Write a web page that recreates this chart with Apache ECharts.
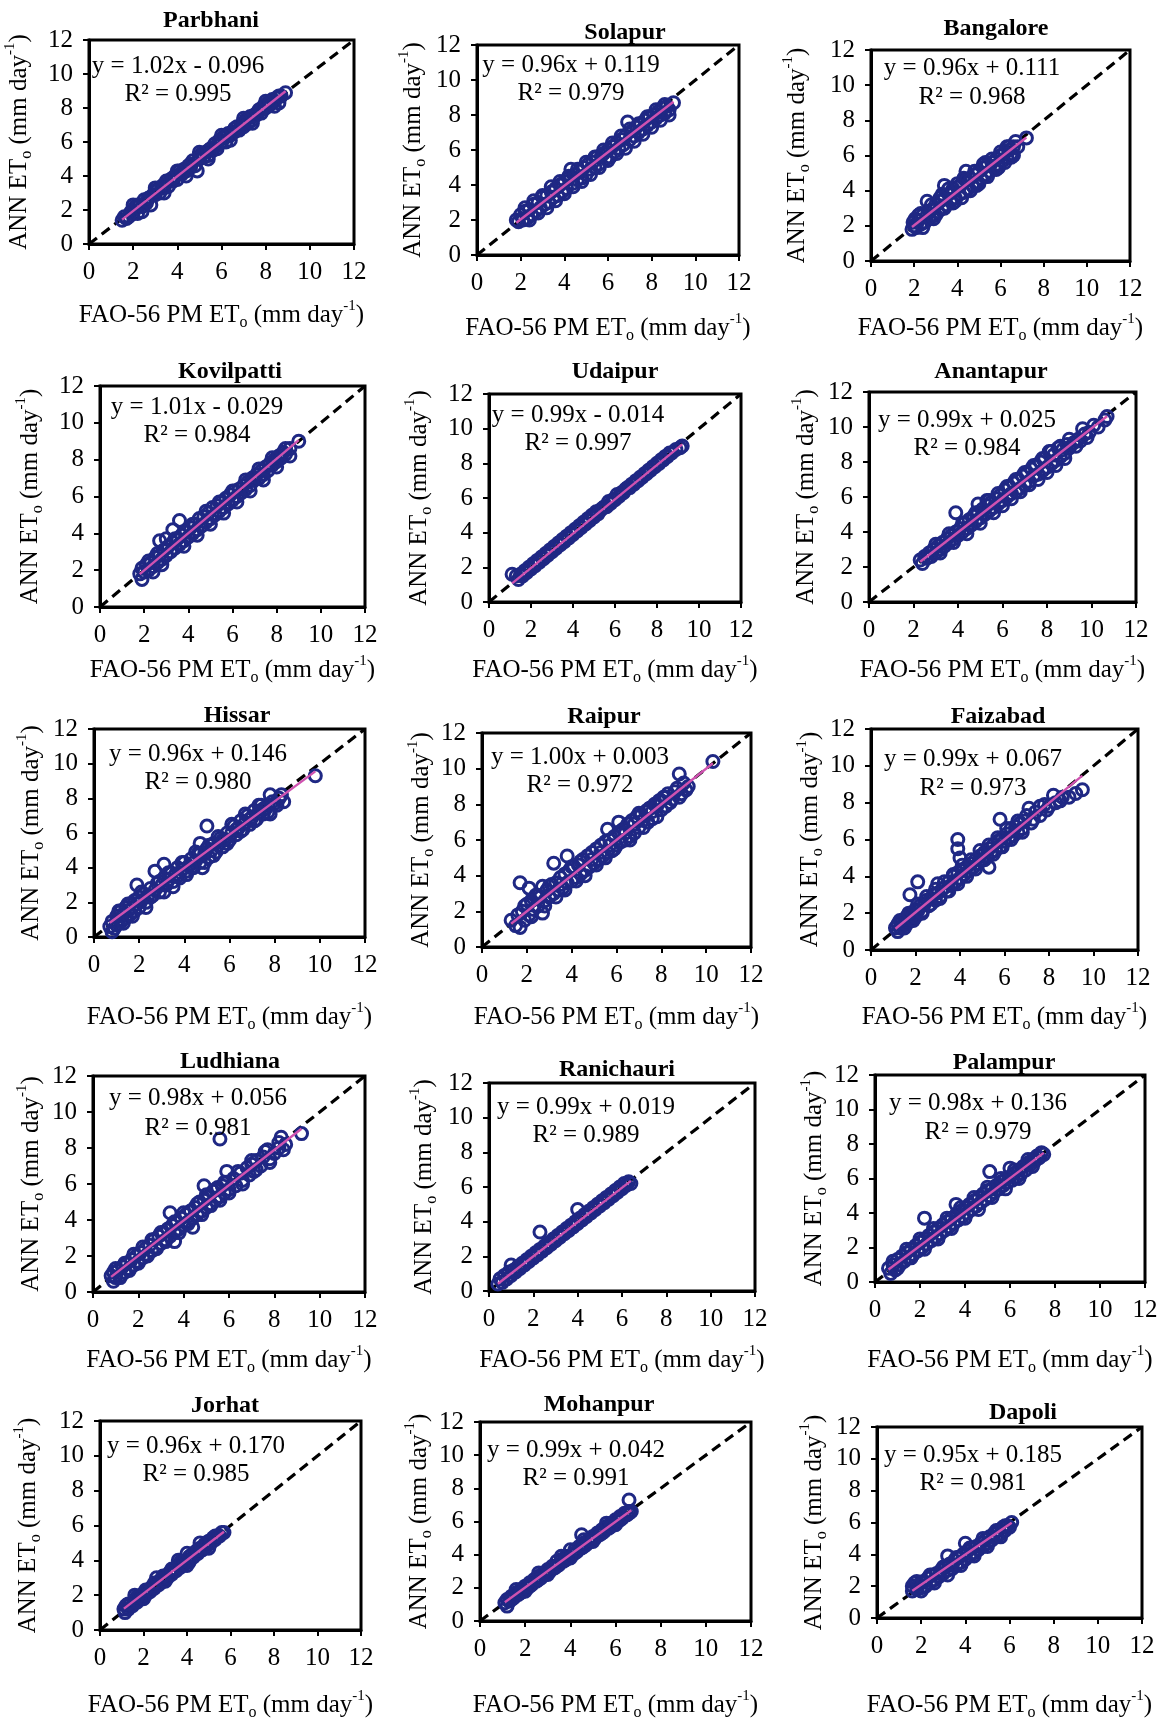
<!DOCTYPE html>
<html><head><meta charset="utf-8">
<script src="https://cdn.jsdelivr.net/npm/echarts@6/dist/echarts.min.js"></script>
<style>html,body{margin:0;padding:0;background:#fff}#c{width:1162px;height:1718px}</style>
</head><body><div id="c"></div>
<script>
// ---------------- DATA ----------------
const stations = ['Parbhani','Solapur','Bangalore','Kovilpatti','Udaipur','Anantapur','Hissar','Raipur','Faizabad','Ludhiana','Ranichauri','Palampur','Jorhat','Mohanpur','Dapoli'];
const equations = ['y = 1.02x - 0.096','y = 0.96x + 0.119','y = 0.96x + 0.111','y = 1.01x - 0.029','y = 0.99x - 0.014','y = 0.99x + 0.025','y = 0.96x + 0.146','y = 1.00x + 0.003','y = 0.99x + 0.067','y = 0.98x + 0.056','y = 0.99x + 0.019','y = 0.98x + 0.136','y = 0.96x + 0.170','y = 0.99x + 0.042','y = 0.95x + 0.185'];
const r2Labels = ['R² = 0.995','R² = 0.979','R² = 0.968','R² = 0.984','R² = 0.997','R² = 0.984','R² = 0.980','R² = 0.972','R² = 0.973','R² = 0.981','R² = 0.989','R² = 0.979','R² = 0.985','R² = 0.991','R² = 0.981'];
const slopes = [1.02,0.96,0.96,1.01,0.99,0.99,0.96,1.00,0.99,0.98,0.99,0.98,0.96,0.99,0.95];
const intercepts = [-0.096,0.119,0.111,-0.029,-0.014,0.025,0.146,0.003,0.067,0.056,0.019,0.136,0.170,0.042,0.185];
const axisMin = 0, axisMax = 12, axisStep = 2;
const oneToOne = [[0,0],[12,12]];
const xAxisTitle = '{t|FAO-56 PM ET}{sub|o}{t| (mm day}{sup|-1}{t|)}';
const yAxisTitle = '{t|ANN ET}{sub|o}{t| (mm day}{sup|-1}{t|)}';

const parbhani = [[1.5,1.4],[1.6,1.6],[1.7,1.5],[1.9,1.9],[2.0,1.8],[2.1,2.2],[2.2,1.8],[2.3,2.3],[2.4,2.2],[2.5,2.6],[2.6,2.4],[2.7,2.7],[2.8,2.3],[2.9,2.9],[3.0,2.9],[3.1,3.2],[3.2,3.0],[3.3,3.4],[3.4,3.3],[3.5,3.7],[3.6,3.4],[3.7,3.8],[3.8,3.7],[3.9,4.0],[4.0,3.8],[4.1,4.3],[4.2,4.1],[4.3,4.4],[4.4,4.3],[4.5,4.6],[4.6,4.5],[4.7,4.9],[4.8,4.6],[4.9,4.3],[5.0,5.0],[5.1,5.3],[5.2,5.1],[5.3,5.4],[5.4,5.2],[5.5,5.6],[5.6,5.5],[5.7,5.9],[5.8,5.6],[5.9,6.1],[6.0,6.0],[6.1,6.3],[6.2,6.0],[6.3,6.5],[6.4,6.4],[6.5,6.6],[6.6,6.6],[6.7,6.9],[6.8,6.7],[6.9,7.0],[7.0,6.9],[7.1,7.3],[7.2,7.1],[7.3,7.5],[7.4,7.3],[7.5,7.6],[7.6,7.6],[7.7,7.9],[7.8,7.7],[7.9,8.1],[8.0,8.0],[8.1,8.3],[8.2,8.2],[8.3,8.5],[8.4,8.4],[8.5,8.6],[8.6,8.3],[8.7,8.7],[8.9,8.9],
  [1.8,1.6],[2.2,2.3],[2.6,2.5],[3.0,3.1],[3.4,3.5],[3.8,3.9],[4.2,4.2],[4.6,4.7],[5.0,5.1],[5.4,5.5],[5.8,5.8],[6.2,6.3],[6.6,6.8],[7.0,7.1],[7.4,7.5],[7.8,7.9],[8.2,8.3],[8.6,8.7],
  [2.0,2.3],[2.4,1.9],[3.0,3.3],[3.4,3.0],[4.0,4.3],[4.4,4.0],[5.0,5.4],[5.4,5.0],[6.0,6.4],[6.4,6.1],[7.0,7.4],[7.4,7.1],[8.0,8.4],[8.4,8.1]];
const solapur = [[1.8,2.0],[1.9,1.9],[2.0,2.3],[2.1,2.0],[2.2,2.5],[2.3,2.1],[2.4,2.6],[2.5,2.3],[2.6,2.9],[2.7,2.5],[2.8,3.0],[2.9,2.7],[3.0,3.3],[3.1,2.9],[3.2,3.4],[3.3,3.0],[3.4,3.9],[3.5,3.3],[3.6,3.8],[3.7,3.4],[3.8,4.0],[3.9,3.6],[4.0,4.2],[4.1,3.8],[4.2,4.4],[4.3,4.9],[4.4,4.1],[4.5,4.6],[4.6,4.3],[4.7,4.8],[4.8,4.4],[4.9,5.0],[5.0,4.6],[5.1,5.2],[5.2,4.9],[5.3,5.3],[5.4,5.0],[5.5,5.6],[5.6,5.2],[5.7,5.7],[5.8,6.0],[5.9,5.5],[6.0,6.0],[6.1,5.6],[6.2,6.2],[6.3,5.9],[6.4,6.4],[6.5,6.1],[6.6,6.6],[6.7,6.3],[6.8,6.8],[6.9,7.6],[7.0,6.6],[7.1,7.1],[7.2,6.8],[7.3,7.3],[7.4,7.0],[7.5,7.5],[7.6,7.2],[7.7,7.7],[7.8,7.4],[7.9,7.9],[8.0,7.6],[8.1,8.0],[8.2,7.8],[8.3,8.2],[8.4,8.0],[8.5,8.4],[8.6,8.1],[8.7,8.5],[8.8,8.3],[9.0,8.7],
  [2.2,2.7],[2.4,2.0],[2.6,3.1],[2.8,2.4],[3.0,3.4],[3.2,2.7],[3.4,3.6],[3.6,3.1],[3.8,4.2],[4.0,3.5],[4.2,4.5],[4.4,3.9],[4.6,4.9],[4.8,4.2],[5.0,5.3],[5.2,4.6],[5.4,5.6],[5.6,5.0],[5.8,5.8],[6.0,5.4],[6.2,6.4],[6.4,5.8],[6.6,6.8],[6.8,6.1],[7.0,7.2],[7.2,6.5],[7.4,7.5],[7.6,6.9],[7.8,7.9],[8.0,7.3],[8.2,8.3],[8.4,7.7],[8.6,8.6],[8.8,8.0]];
const bangalore = [[1.9,1.8],[1.95,2.2],[2.0,2.0],[2.05,2.4],[2.1,1.9],[2.2,2.3],[2.3,2.1],[2.4,2.6],[2.5,2.2],[2.6,3.4],[2.6,2.6],[2.7,2.4],[2.8,2.9],[2.9,2.6],[3.0,3.2],[3.1,2.8],[3.2,3.4],[3.3,3.0],[3.4,4.3],[3.4,3.6],[3.5,3.2],[3.6,3.8],[3.7,3.4],[3.8,4.1],[3.9,3.6],[4.0,4.2],[4.1,3.8],[4.2,4.4],[4.3,3.9],[4.4,5.1],[4.4,4.6],[4.5,4.1],[4.6,4.7],[4.7,4.3],[4.8,4.9],[4.9,4.5],[5.0,5.1],[5.1,4.7],[5.2,5.3],[5.3,4.9],[5.4,5.5],[5.5,5.1],[5.6,5.6],[5.7,5.3],[5.8,5.8],[5.9,5.5],[6.0,6.0],[6.1,5.7],[6.2,6.2],[6.3,5.9],[6.4,6.3],[6.5,6.1],[6.6,6.5],[6.7,6.8],[6.8,6.5],[7.2,7.0],
  [2.2,2.6],[2.4,1.9],[2.8,3.2],[3.0,2.6],[3.2,3.6],[3.4,3.0],[3.6,4.1],[3.8,3.3],[4.0,4.4],[4.2,3.6],[4.4,4.6],[4.6,4.0],[4.8,5.1],[5.0,4.4],[5.2,5.5],[5.4,4.8],[5.6,5.8],[5.8,5.2],[6.0,6.2],[6.2,5.6],[6.4,6.5],[6.6,6.0],
  [2.3,2.7],[2.9,2.4],[3.3,3.8],[3.9,3.4],[4.3,4.7],[4.9,4.3],[5.3,5.6],[5.9,5.3],[6.3,6.5],[6.5,5.9]];
const kovilpatti = [[1.8,1.8],[1.9,1.5],[1.9,2.1],[2.0,1.9],[2.1,2.3],[2.2,2.0],[2.3,2.4],[2.4,2.2],[2.5,2.7],[2.6,2.4],[2.7,3.6],[2.7,2.8],[2.8,2.6],[2.9,3.1],[3.0,3.7],[3.0,2.8],[3.1,3.3],[3.2,3.0],[3.3,4.2],[3.3,3.5],[3.4,3.2],[3.5,3.7],[3.6,4.7],[3.6,3.4],[3.7,3.9],[3.8,3.6],[3.9,4.1],[4.0,3.8],[4.1,4.3],[4.2,4.0],[4.3,4.5],[4.4,4.2],[4.5,4.8],[4.6,4.4],[4.7,4.9],[4.8,4.6],[4.9,5.1],[5.0,4.8],[5.1,5.4],[5.2,5.0],[5.3,5.5],[5.4,5.2],[5.5,5.7],[5.6,5.4],[5.7,5.9],[5.8,5.6],[5.9,6.1],[6.0,5.8],[6.1,6.3],[6.2,6.0],[6.3,6.4],[6.4,6.2],[6.5,6.6],[6.6,6.4],[6.7,6.8],[6.8,6.6],[6.9,7.0],[7.0,6.9],[7.1,7.2],[7.2,7.0],[7.3,7.4],[7.4,7.2],[7.5,7.6],[7.6,7.4],[7.7,7.8],[7.8,7.7],[7.9,8.0],[8.0,7.9],[8.1,8.2],[8.2,8.1],[8.3,8.4],[8.4,8.3],[8.6,8.6],[9.0,9.0],
  [2.2,2.5],[2.4,1.9],[2.6,2.9],[2.8,2.3],[3.4,3.7],[3.8,3.3],[4.2,4.5],[4.4,3.9],[4.8,5.2],[5.0,4.5],[5.4,5.7],[5.6,5.1],[6.0,6.3],[6.2,5.7],[6.6,6.9],[6.8,6.3],[7.2,7.5],[7.4,6.9],[7.8,8.1],[8.0,7.6],[8.4,8.6],[8.6,8.2]];
const udaipur = [[1.1,1.6],[1.3,1.5],[1.4,1.3],[1.5,1.6],[1.6,1.5],[1.7,1.8],[1.8,1.7],[1.9,2.0],[2.0,1.9],[2.1,2.2],[2.2,2.1],[2.3,2.4],[2.4,2.3],[2.5,2.6],[2.6,2.5],[2.7,2.8],[2.8,2.7],[2.9,3.0],[3.0,2.9],[3.1,3.2],[3.2,3.1],[3.3,3.4],[3.4,3.3],[3.5,3.6],[3.6,3.5],[3.7,3.8],[3.8,3.7],[3.9,4.0],[4.0,3.9],[4.1,4.2],[4.2,4.1],[4.3,4.4],[4.4,4.3],[4.5,4.6],[4.6,4.5],[4.7,4.8],[4.8,4.7],[4.9,5.0],[5.0,4.9],[5.1,5.2],[5.2,5.1],[5.3,5.3],[5.4,5.4],[5.5,5.5],[5.6,5.5],[5.7,5.8],[5.8,5.7],[5.9,5.9],[6.0,5.9],[6.1,6.2],[6.2,6.1],[6.3,6.3],[6.4,6.3],[6.5,6.5],[6.6,6.6],[6.7,6.6],[6.8,6.8],[6.9,6.8],[7.0,7.0],[7.1,7.0],[7.2,7.2],[7.3,7.2],[7.4,7.4],[7.5,7.4],[7.6,7.6],[7.7,7.6],[7.8,7.8],[7.9,7.8],[8.0,8.0],[8.1,8.0],[8.2,8.2],[8.3,8.2],[8.4,8.4],[8.5,8.4],[8.6,8.6],[8.7,8.6],[8.9,8.8],[9.1,8.9],[9.2,9.0]];
const anantapur = [[2.3,2.4],[2.4,2.2],[2.5,2.6],[2.6,2.5],[2.7,2.8],[2.8,2.6],[2.9,3.0],[3.0,2.8],[3.1,3.2],[3.2,3.0],[3.3,3.4],[3.4,3.2],[3.5,3.6],[3.6,3.4],[3.7,3.8],[3.8,3.6],[3.9,5.1],[3.9,4.0],[4.0,3.8],[4.1,4.2],[4.2,4.0],[4.3,4.5],[4.4,4.2],[4.5,4.7],[4.6,4.4],[4.7,4.9],[4.8,4.6],[4.9,5.6],[4.9,5.1],[5.0,4.8],[5.1,5.3],[5.2,5.0],[5.3,5.8],[5.3,5.5],[5.4,5.2],[5.5,5.7],[5.6,5.4],[5.7,5.9],[5.8,5.6],[5.9,6.1],[6.0,5.8],[6.1,6.4],[6.2,6.0],[6.3,6.6],[6.4,6.2],[6.5,6.8],[6.6,6.3],[6.7,7.0],[6.8,6.5],[6.9,7.2],[7.0,6.7],[7.1,7.4],[7.2,6.9],[7.3,7.6],[7.4,7.2],[7.5,7.8],[7.6,7.3],[7.7,8.0],[7.8,7.5],[7.9,8.2],[8.0,7.7],[8.1,8.6],[8.2,7.9],[8.3,8.4],[8.4,8.1],[8.5,8.8],[8.6,8.3],[8.7,8.7],[8.8,8.5],[8.9,9.0],[9.0,8.8],[9.2,9.1],[9.4,9.3],[9.5,9.2],[9.7,9.6],[9.9,9.7],[10.6,10.4],[10.7,10.6],
  [3.0,3.3],[3.2,2.8],[3.6,3.9],[3.8,3.4],[4.2,4.5],[4.4,3.9],[4.8,5.1],[5.0,4.5],[5.4,5.8],[5.6,5.1],[5.8,6.2],[6.0,5.5],[6.2,6.6],[6.4,5.9],[6.6,7.0],[6.8,6.3],[7.0,7.4],[7.2,6.7],[7.4,7.8],[7.6,7.0],[7.8,8.2],[8.0,7.4],[8.2,8.6],[8.4,7.8],[8.6,8.9],[8.8,8.2],[9.0,9.3],[9.3,8.9],[9.6,9.9],[9.8,9.4],[10.1,10.1],[10.3,10.0]];
const hissar = [[0.7,0.6],[0.8,0.3],[0.8,0.9],[0.9,0.5],[1.0,1.2],[1.0,0.7],[1.1,1.0],[1.2,1.5],[1.2,0.9],[1.3,1.3],[1.4,1.7],[1.4,1.1],[1.5,1.5],[1.6,1.9],[1.6,1.3],[1.7,1.7],[1.8,2.1],[1.8,1.5],[1.9,3.0],[1.9,1.9],[2.0,2.3],[2.0,1.7],[2.1,2.1],[2.2,2.5],[2.3,2.0],[2.4,2.4],[2.5,2.8],[2.6,2.4],[2.7,3.8],[2.7,2.7],[2.8,3.1],[2.9,2.6],[3.0,3.0],[3.1,4.2],[3.1,3.4],[3.2,3.0],[3.3,3.3],[3.4,3.7],[3.5,3.2],[3.6,3.6],[3.7,4.0],[3.8,3.4],[3.9,3.9],[4.0,4.3],[4.1,3.8],[4.2,4.1],[4.3,4.5],[4.4,4.0],[4.5,4.4],[4.6,4.8],[4.7,5.4],[4.7,4.3],[4.8,4.0],[4.9,4.8],[5.0,6.4],[5.0,5.1],[5.1,4.6],[5.2,5.0],[5.3,5.4],[5.4,4.9],[5.5,5.3],[5.6,5.7],[5.7,5.2],[5.8,5.6],[5.9,6.0],[6.0,5.6],[6.1,6.0],[6.2,6.4],[6.3,5.9],[6.4,6.3],[6.5,6.7],[6.6,6.2],[6.7,6.6],[6.8,7.0],[6.9,6.5],[7.0,6.9],[7.1,7.3],[7.2,6.8],[7.3,7.2],[7.4,7.6],[7.5,7.1],[7.6,7.4],[7.7,7.6],[7.8,8.2],[7.8,7.1],[8.0,7.7],[8.2,8.0],[8.3,8.2],[8.4,7.8],[9.8,9.3],
  [1.1,1.5],[1.3,0.8],[1.5,1.9],[1.7,1.2],[2.1,2.6],[2.3,1.7],[2.5,2.3],[2.9,3.2],[3.1,2.6],[3.3,3.7],[3.5,2.9],[3.7,3.5],[3.9,4.3],[4.1,3.6],[4.3,4.0],[4.5,4.9],[4.7,4.8],[4.9,4.3],[5.1,5.3],[5.3,4.7],[5.5,5.8],[5.7,5.6],[5.9,5.4],[6.1,6.5],[6.3,6.2],[6.5,6.1],[6.7,7.1],[6.9,6.8],[7.1,6.7],[7.3,7.6],[7.5,7.4],[7.7,7.2],[7.9,7.8],[8.1,7.6]];
const raipur = [[1.3,1.5],[1.5,1.2],[1.6,1.8],[1.7,1.1],[1.7,3.6],[1.8,2.0],[1.9,1.5],[2.0,2.4],[2.1,3.3],[2.1,1.8],[2.2,2.6],[2.3,2.1],[2.4,2.9],[2.5,2.3],[2.6,2.8],[2.7,1.9],[2.7,3.4],[2.8,2.6],[2.9,3.2],[3.0,2.8],[3.1,3.5],[3.2,4.7],[3.2,3.0],[3.3,3.6],[3.4,3.2],[3.5,3.9],[3.6,3.3],[3.7,4.1],[3.8,5.1],[3.8,3.6],[3.9,4.3],[4.0,3.7],[4.1,4.5],[4.2,3.9],[4.3,4.6],[4.4,4.1],[4.5,4.9],[4.6,4.3],[4.7,5.1],[4.8,4.5],[4.9,5.3],[5.0,4.7],[5.1,5.5],[5.2,4.9],[5.3,5.7],[5.4,5.1],[5.5,5.9],[5.6,6.6],[5.6,5.3],[5.7,6.0],[5.8,5.4],[5.9,6.2],[6.0,5.7],[6.1,7.0],[6.1,6.4],[6.2,5.9],[6.3,6.6],[6.4,6.0],[6.5,6.9],[6.6,6.2],[6.7,7.1],[6.8,6.4],[6.9,7.3],[7.0,6.7],[7.1,7.4],[7.2,6.7],[7.3,7.6],[7.4,7.0],[7.5,7.8],[7.6,7.2],[7.7,8.0],[7.8,7.3],[7.9,8.2],[8.0,7.7],[8.1,8.4],[8.2,7.9],[8.3,8.6],[8.4,8.1],[8.6,8.7],[8.8,9.7],[8.8,8.4],[9.1,8.8],[9.0,9.2],[10.3,10.4],
  [1.9,2.3],[2.2,1.7],[2.5,2.9],[2.8,2.3],[3.0,3.4],[3.3,2.8],[3.5,3.5],[3.7,3.2],[4.0,4.5],[4.2,3.7],[4.4,4.8],[4.6,4.0],[4.9,4.9],[5.1,4.6],[5.3,5.3],[5.5,5.0],[5.7,5.7],[5.9,5.5],[6.2,6.5],[6.4,6.4],[6.6,6.0],[6.8,6.9],[7.0,7.5],[7.2,7.1],[7.4,7.7],[7.6,7.6],[7.8,7.9],[8.0,8.2],[8.2,8.4],[8.5,8.3],[8.7,8.9],[8.9,8.6],[9.2,9.0]];
const faizabad = [[1.1,1.2],[1.2,1.0],[1.2,1.4],[1.3,1.2],[1.4,1.6],[1.4,1.3],[1.5,1.5],[1.6,1.8],[1.6,1.4],[1.7,1.7],[1.75,3.0],[1.8,2.0],[1.8,1.6],[1.9,1.9],[2.0,2.2],[2.0,1.8],[2.1,3.7],[2.1,2.1],[2.2,2.4],[2.3,2.1],[2.4,2.5],[2.5,2.7],[2.6,2.4],[2.7,2.8],[2.8,3.0],[2.9,2.7],[3.0,3.6],[3.0,3.1],[3.1,2.9],[3.2,3.3],[3.3,3.4],[3.4,3.2],[3.5,3.7],[3.6,3.5],[3.7,4.0],[3.8,3.7],[3.9,6.0],[3.9,5.5],[3.9,4.2],[4.0,5.0],[4.0,3.9],[4.1,4.3],[4.2,4.1],[4.3,4.5],[4.4,4.3],[4.5,4.7],[4.6,4.5],[4.7,4.9],[4.8,4.7],[4.9,5.1],[5.0,4.9],[5.1,5.3],[5.2,5.1],[5.3,4.5],[5.3,5.5],[5.4,5.3],[5.5,5.7],[5.6,5.4],[5.7,5.9],[5.8,7.1],[5.8,5.6],[5.9,6.1],[6.0,5.9],[6.1,6.3],[6.2,6.1],[6.3,6.6],[6.4,6.2],[6.5,6.7],[6.6,6.4],[6.7,6.9],[6.8,6.6],[6.9,7.0],[7.1,7.7],[7.2,6.9],[7.4,7.5],[7.6,7.3],[7.8,7.9],[8.0,7.8],[8.3,8.0],[8.6,8.3],[8.9,8.3],[9.2,8.5],[9.5,8.7],
  [1.3,1.6],[1.5,1.2],[1.7,2.0],[1.9,1.6],[2.1,2.5],[2.3,2.0],[2.5,2.9],[2.7,2.5],[2.9,3.3],[3.1,2.8],[3.3,3.7],[3.5,3.2],[3.7,4.1],[3.9,3.6],[4.1,4.6],[4.3,4.0],[4.5,4.9],[4.7,4.4],[4.9,5.4],[5.1,4.9],[5.3,5.7],[5.5,5.2],[5.7,6.1],[5.9,5.6],[6.1,6.6],[6.3,6.0],[6.6,7.0],[6.8,6.4],[7.0,7.3],[7.3,7.1],[7.6,7.8],[7.9,7.6],[8.2,8.4],[8.5,8.1]];
const ludhiana = [[0.8,0.9],[0.9,0.6],[0.9,1.1],[1.0,0.8],[1.1,1.2],[1.2,0.9],[1.3,1.4],[1.4,1.1],[1.5,1.6],[1.6,1.3],[1.7,1.8],[1.8,1.5],[1.9,2.0],[2.0,1.7],[2.1,2.2],[2.2,1.9],[2.3,2.4],[2.4,2.1],[2.5,2.6],[2.6,2.3],[2.7,2.9],[2.8,2.5],[2.9,3.1],[3.0,2.7],[3.1,3.3],[3.2,2.9],[3.3,3.5],[3.4,4.4],[3.4,3.1],[3.5,3.7],[3.6,2.8],[3.6,3.3],[3.7,3.9],[3.8,3.5],[3.9,4.1],[4.0,3.7],[4.1,4.3],[4.2,3.9],[4.3,4.5],[4.4,3.6],[4.4,4.1],[4.5,4.7],[4.6,4.3],[4.7,5.0],[4.8,4.5],[4.9,5.9],[4.9,5.1],[5.0,4.7],[5.1,5.3],[5.2,4.9],[5.3,5.6],[5.4,5.1],[5.5,5.8],[5.6,8.5],[5.6,5.3],[5.7,5.9],[5.8,5.5],[5.9,6.7],[5.9,6.1],[6.0,5.7],[6.2,6.3],[6.3,5.9],[6.5,6.6],[6.6,6.2],[6.8,6.9],[6.9,6.5],[7.0,7.1],[7.1,6.7],[7.2,7.3],[7.4,7.0],[7.5,7.5],[7.7,7.9],[7.8,7.4],[8.0,7.7],[8.2,8.0],[8.3,8.6],[8.5,8.2],[9.2,8.8],
  [1.0,1.3],[1.2,0.8],[1.4,1.6],[1.6,1.2],[1.8,2.1],[2.0,1.6],[2.2,2.5],[2.4,2.0],[2.6,2.9],[2.8,2.4],[3.0,3.3],[3.2,2.8],[3.6,3.9],[3.8,3.3],[4.0,4.4],[4.2,3.8],[4.6,4.9],[4.8,4.3],[5.0,5.4],[5.2,4.8],[5.4,5.7],[5.6,5.1],[5.8,6.1],[6.0,5.5],[6.4,6.7],[6.6,6.0],[7.0,7.3],[7.2,6.8],[7.6,7.8],[7.8,7.2],[8.2,8.3],[8.4,7.9]];
const ranichauri = [[0.4,0.4],[0.5,0.7],[0.6,0.5],[0.7,0.9],[0.8,0.7],[0.9,1.1],[1.0,1.5],[1.0,0.9],[1.1,1.2],[1.2,1.1],[1.3,1.4],[1.4,1.3],[1.5,1.6],[1.6,1.5],[1.7,1.8],[1.8,1.7],[1.9,2.0],[2.0,1.9],[2.1,2.2],[2.2,2.1],[2.3,3.4],[2.3,2.4],[2.4,2.3],[2.5,2.6],[2.6,2.5],[2.7,2.8],[2.8,2.7],[2.9,3.0],[3.0,2.9],[3.1,3.2],[3.2,3.1],[3.3,3.4],[3.4,3.3],[3.5,3.6],[3.6,3.5],[3.7,3.8],[3.8,3.7],[3.9,4.0],[4.0,4.7],[4.0,3.9],[4.1,4.2],[4.2,4.1],[4.3,4.4],[4.4,4.3],[4.5,4.6],[4.6,4.5],[4.7,4.8],[4.8,4.7],[4.9,5.0],[5.0,4.9],[5.1,5.2],[5.2,5.1],[5.3,5.4],[5.4,5.3],[5.5,5.6],[5.6,5.5],[5.7,5.8],[5.8,5.7],[5.9,6.0],[6.0,5.9],[6.1,6.2],[6.2,6.1],[6.3,6.3],[6.4,6.2]];
const palampur = [[0.6,0.8],[0.7,0.5],[0.8,1.0],[0.9,0.7],[1.0,1.3],[1.1,1.0],[1.2,1.5],[1.3,1.2],[1.4,1.7],[1.5,1.4],[1.6,1.9],[1.7,1.6],[1.8,2.1],[1.9,1.8],[2.0,2.3],[2.1,2.0],[2.2,3.7],[2.2,2.5],[2.3,2.2],[2.4,2.7],[2.5,2.4],[2.6,2.9],[2.7,2.6],[2.8,3.1],[2.9,2.8],[3.0,3.3],[3.1,3.0],[3.2,3.5],[3.3,3.2],[3.4,3.7],[3.5,3.4],[3.6,4.5],[3.6,3.9],[3.7,3.6],[3.8,4.1],[3.9,3.8],[4.0,4.3],[4.1,4.0],[4.2,4.5],[4.3,4.2],[4.4,4.7],[4.5,4.4],[4.6,4.9],[4.7,4.6],[4.8,5.1],[4.9,4.8],[5.0,5.3],[5.1,6.4],[5.1,5.0],[5.2,5.4],[5.3,5.2],[5.4,5.6],[5.5,5.4],[5.6,5.8],[5.7,5.6],[5.8,6.0],[5.9,5.8],[6.0,6.6],[6.0,6.1],[6.1,5.9],[6.2,6.3],[6.3,6.1],[6.4,6.5],[6.5,6.3],[6.6,6.7],[6.7,6.5],[6.8,6.9],[6.9,6.8],[7.0,7.1],[7.1,7.0],[7.2,7.3],[7.3,7.2],[7.4,7.5],[7.5,7.4],
  [0.8,1.2],[1.0,0.8],[1.4,1.9],[1.6,1.4],[2.0,2.5],[2.2,1.9],[2.6,3.1],[2.8,2.5],[3.2,3.7],[3.4,3.1],[3.8,4.3],[4.0,3.7],[4.4,4.9],[4.6,4.2],[5.0,5.5],[5.2,4.9],[5.6,6.0],[5.8,5.4],[6.2,6.5],[6.4,6.0],[6.8,7.1],[7.0,6.7]];
const jorhat = [[1.1,1.2],[1.15,1.0],[1.2,1.4],[1.3,1.2],[1.4,1.5],[1.5,1.4],[1.6,1.7],[1.7,1.6],[1.8,1.9],[1.9,1.8],[2.0,2.1],[2.1,2.0],[2.2,2.3],[2.3,2.2],[2.4,2.5],[2.5,2.4],[2.6,2.7],[2.7,2.6],[2.8,2.9],[2.9,2.8],[3.0,3.1],[3.1,3.0],[3.2,3.3],[3.3,3.2],[3.4,3.5],[3.5,3.4],[3.6,3.7],[3.7,3.6],[3.8,3.9],[3.9,3.8],[4.0,4.4],[4.0,4.0],[4.1,3.9],[4.2,4.3],[4.3,4.2],[4.4,4.5],[4.5,4.4],[4.6,4.7],[4.7,4.6],[4.8,4.9],[4.9,4.8],[5.0,5.1],[5.1,5.0],[5.2,5.3],[5.3,5.2],[5.4,5.4],[5.5,5.4],[5.6,5.6],[5.7,5.6],
  [1.3,1.5],[1.7,1.9],[2.1,2.3],[2.5,2.7],[2.9,3.1],[3.3,3.5],[3.7,3.9],[4.1,4.2],[4.5,4.6],[4.9,5.0],[5.3,5.4],
  [1.6,2.0],[2.0,1.8],[2.6,3.0],[3.0,2.8],[3.6,4.0],[4.0,3.7],[4.6,5.0],[5.0,4.7]];
const mohanpur = [[1.1,1.1],[1.2,0.9],[1.2,1.3],[1.3,1.2],[1.4,1.5],[1.5,1.4],[1.6,1.7],[1.7,1.6],[1.8,1.9],[1.9,1.8],[2.0,2.1],[2.1,2.0],[2.2,2.3],[2.3,2.2],[2.4,2.5],[2.5,2.4],[2.6,2.7],[2.7,2.6],[2.8,2.9],[2.9,2.8],[3.0,3.1],[3.1,3.0],[3.2,3.3],[3.3,3.2],[3.4,3.6],[3.5,3.4],[3.6,3.7],[3.7,3.6],[3.8,3.9],[3.9,3.8],[4.0,4.3],[4.1,4.0],[4.2,4.3],[4.3,4.2],[4.4,4.5],[4.5,5.2],[4.5,4.4],[4.6,4.7],[4.7,4.6],[4.8,4.9],[4.9,4.8],[5.0,5.1],[5.1,5.0],[5.2,5.3],[5.3,5.2],[5.4,5.5],[5.5,5.4],[5.6,5.7],[5.7,5.6],[5.8,5.9],[5.9,5.8],[6.0,6.1],[6.1,6.0],[6.2,6.3],[6.3,6.2],[6.4,6.5],[6.5,6.4],[6.6,7.3],[6.6,6.6],[6.7,6.6],
  [1.4,1.3],[1.8,1.7],[2.2,2.1],[2.6,2.5],[3.0,2.9],[3.4,3.3],[3.8,3.7],[4.2,4.1],[4.6,4.5],[5.0,4.9],[5.4,5.3],[5.8,5.7],[6.2,6.1],[6.6,6.5],
  [1.6,1.9],[2.0,1.8],[2.6,2.9],[3.0,2.8],[3.6,3.9],[4.0,3.8],[4.6,4.9],[5.0,4.8],[5.6,5.9],[6.0,5.8]];
const dapoli = [[1.6,2.0],[1.6,1.7],[1.7,2.2],[1.8,1.8],[1.9,2.1],[2.0,1.9],[2.1,2.3],[2.2,2.0],[2.3,2.5],[2.4,2.2],[2.5,2.7],[2.6,2.4],[2.7,2.8],[2.8,2.6],[2.9,3.0],[3.0,2.8],[3.1,3.2],[3.2,3.9],[3.2,3.0],[3.3,3.4],[3.4,3.1],[3.5,3.6],[3.6,3.3],[3.7,3.8],[3.8,3.5],[3.9,4.0],[4.0,4.7],[4.0,3.7],[4.1,4.2],[4.2,3.9],[4.3,4.4],[4.4,4.1],[4.5,4.5],[4.6,4.3],[4.7,4.7],[4.8,4.5],[4.9,4.9],[5.0,4.7],[5.1,5.1],[5.2,4.9],[5.3,5.3],[5.4,5.1],[5.5,5.5],[5.6,5.3],[5.7,5.7],[5.8,5.5],[5.9,5.8],[6.0,5.7],[6.1,6.0],
  [1.8,2.3],[2.0,1.7],[2.4,2.7],[2.6,2.2],[3.0,3.2],[3.2,2.7],[3.6,3.8],[3.8,3.3],[4.2,4.4],[4.4,3.9],[4.8,5.0],[5.0,4.5],[5.4,5.5],[5.6,5.1],[5.8,5.8]];

const pointSets = [parbhani,solapur,bangalore,kovilpatti,udaipur,anantapur,hissar,raipur,faizabad,ludhiana,ranichauri,palampur,jorhat,mohanpur,dapoli];

// ---------------- LAYOUT ----------------
const boxes = [[89,40,354,244],[477,45,739,255],[871,50,1130,261],[100,386,365,607],[489,394,741,602],[869,392,1136,602],[94,729,365,937],[482,733,751,947],[871,729,1138,950],[93,1076,365,1292],[489,1083,755,1291],[875,1075,1145,1282],[100,1421,361,1630],[480,1422,751,1621],[877,1427,1142,1618]];
const titlePos = [[211,21],[625,33],[996,29],[230,372],[615,372],[991,372],[237,716],[604,717],[998,717],[230,1062],[617,1070],[1004,1063],[225,1406],[599,1405],[1023,1413]];
const eqPos = [[178,66,94],[571,65,93],[972,68,97],[197,407,435],[578,415,443],[967,420,448],[198,754,782],[580,757,785],[973,759,788],[198,1098,1128],[586,1107,1135],[978,1103,1132],[196,1446,1474],[576,1450,1478],[973,1455,1483]];
const xTitleOff = [71,73,67,63,68,68,80,70,67,68,69,78,75,84,87];
const yTitleOff = [70,64,74,70,70,63,63,59,59,62,65,60,72,61,63];

const FONT = '"Liberation Serif","Times New Roman",serif';
const FS = 25;
const richName = {
  t: {fontFamily: FONT, fontSize: FS, color: '#000', lineHeight: 32},
  sub: {fontFamily: FONT, fontSize: 16, color: '#000', lineHeight: 16, verticalAlign: 'bottom'},
  sup: {fontFamily: FONT, fontSize: 15, color: '#000', lineHeight: 20, verticalAlign: 'top'}
};

const grids = [], xAxes = [], yAxes = [], series = [], graphics = [];
pointSets.forEach((pts, i) => {
  const [l, t, r, b] = boxes[i];
  grids.push({left: l, top: t, width: r - l, height: b - t, show: true, borderColor: '#000', borderWidth: 3, outerBoundsMode: 'none', containLabel: false});
  const common = {
    gridIndex: i, type: 'value', min: axisMin, max: axisMax, interval: axisStep,
    axisLine: {show: true, onZero: false, lineStyle: {color: '#000', width: 3}},
    axisTick: {show: true, inside: false, length: 6, lineStyle: {color: '#000', width: 2}},
    splitLine: {show: false},
    nameLocation: 'middle',
    nameTextStyle: {rich: richName, fontFamily: FONT, fontSize: FS, color: '#000'}
  };
  xAxes.push(Object.assign({}, common, {
    axisLabel: {fontFamily: FONT, fontSize: FS, color: '#000', margin: 16},
    name: xAxisTitle, nameGap: xTitleOff[i] - 16
  }));
  yAxes.push(Object.assign({}, common, {
    axisLabel: {fontFamily: FONT, fontSize: FS, color: '#000', margin: 16},
    name: yAxisTitle, nameGap: yTitleOff[i] - 16
  }));
  series.push({type: 'line', xAxisIndex: i, yAxisIndex: i, data: oneToOne, symbol: 'none', silent: true, z: 2,
    lineStyle: {color: '#000', width: 3.2, type: [10, 6]}, animation: false});
  series.push({type: 'scatter', xAxisIndex: i, yAxisIndex: i, data: pts, symbol: 'circle', symbolSize: 12, z: 3,
    itemStyle: {color: 'rgba(255,255,255,0)', borderColor: '#1f2884', borderWidth: 3, opacity: 1}, emphasis: {disabled: true}, animation: false});
  const xs = pts.map(p => p[0]);
  const x0 = Math.min(...xs), x1 = Math.max(...xs);
  series.push({type: 'line', xAxisIndex: i, yAxisIndex: i, symbol: 'none', silent: true, z: 4,
    data: [[x0, slopes[i] * x0 + intercepts[i]], [x1, slopes[i] * x1 + intercepts[i]]],
    lineStyle: {color: '#cf52b0', width: 2.4}, animation: false});
  graphics.push({type: 'text', x: titlePos[i][0], y: titlePos[i][1], z: 10,
    style: {text: stations[i], font: 'bold 24px ' + FONT, fill: '#000', align: 'center', verticalAlign: 'middle', textAlign: 'center', textVerticalAlign: 'middle'}});
  graphics.push({type: 'text', x: eqPos[i][0], y: eqPos[i][1], z: 10,
    style: {text: equations[i], font: FS + 'px ' + FONT, fill: '#000', align: 'center', verticalAlign: 'middle', textAlign: 'center', textVerticalAlign: 'middle'}});
  graphics.push({type: 'text', x: eqPos[i][0], y: eqPos[i][2], z: 10,
    style: {text: r2Labels[i], font: FS + 'px ' + FONT, fill: '#000', align: 'center', verticalAlign: 'middle', textAlign: 'center', textVerticalAlign: 'middle'}});
});

const chart = echarts.init(document.getElementById('c'), null, {renderer: 'canvas'});
chart.setOption({
  backgroundColor: '#fff',
  animation: false,
  grid: grids, xAxis: xAxes, yAxis: yAxes, series: series,
  graphic: {elements: graphics}
});
</script></body></html>
